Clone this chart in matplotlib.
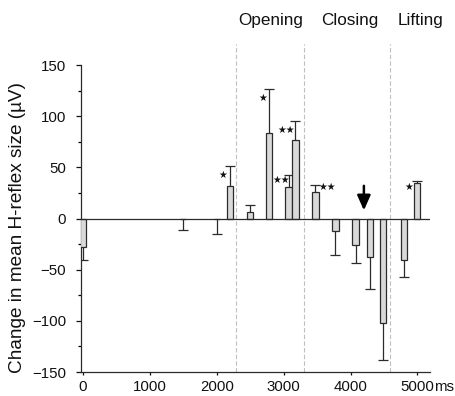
import numpy as np
import matplotlib
matplotlib.use("Agg")
import matplotlib.pyplot as plt

plt.rcParams['font.family'] = ['Liberation Sans', 'DejaVu Sans']

# bar positions (ms), mean change and end of the error bar (uV)
times = [0, 1500, 2000, 2200, 2500, 2780, 3075, 3175, 3475, 3775, 4075, 4290, 4490, 4795, 4990]
means = [-28, -0.5, -0.5, 32, 6, 84, 31, 77, 26, -12, -26, -38, -102, -41, 35]
err_ends = [-41, -11, -15, 51, 13.5, 127, 43, 95, 33, -36, -43, -69, -138, -57.5, 37]

# significance marks: (x, y, number of stars)
stars = [(2085, 43, 1), (2682, 118, 1), (2960, 38, 2), (3036, 87, 2),
         (3655, 31, 2), (4870, 31, 1)]

phase_bounds = [2290, 3300, 4590]
phase_names = ['Opening', 'Closing', 'Lifting']
phase_x = [2800, 3995, 5040]

arrow_x = 4200
arrow_from, arrow_to = 32, 8

edge = '#2b2b2b'
fig = plt.figure(figsize=(4.55, 3.96), dpi=100)
ax = fig.add_axes([0.177, 0.0606, 0.768, 0.775])

ax.bar(times, means, width=95, color='#d9d9d9', edgecolor=edge, linewidth=0.9, zorder=3)
ax.vlines(times, means, err_ends, color=edge, linewidth=0.9, zorder=2)
ax.plot(times, err_ends, ls='none', marker='_', ms=7, mew=0.9, color=edge, zorder=2)

ax.axhline(0, color=edge, linewidth=0.9, zorder=4)

for b in phase_bounds:
    ax.plot([b, b], [-150, 171], color='#c0c0c0', linewidth=0.8, ls=(0, (4, 2)),
            clip_on=False, zorder=1)
for name, x in zip(phase_names, phase_x):
    ax.text(x, 194, name, ha='center', va='center', fontsize=12.3, color='#111111')

for x, y, n in stars:
    ax.text(x, y, '\u2605' * n, ha='center', va='center', fontsize=7,
            family='DejaVu Sans', color='#111111')

ax.annotate('', xy=(arrow_x, arrow_to), xytext=(arrow_x, arrow_from),
            arrowprops=dict(arrowstyle='-|>,head_length=0.9,head_width=0.4',
                            color='black', lw=1.8, shrinkA=0, shrinkB=0))

ax.set_xlim(-36, 5188)
ax.set_ylim(-150, 150)
ax.set_yticks(np.arange(-150, 151, 50))
ax.set_yticks(np.arange(-150, 151, 25), minor=True)
ax.set_xticks(np.arange(0, 5001, 1000))
ax.tick_params(axis='both', labelsize=10.8, colors='#111111', width=0.9, length=3.5, pad=7)
ax.tick_params(axis='y', which='minor', length=2.5, width=0.9)
ax.tick_params(axis='x', length=2.5, pad=3.5)
for sp in ['top', 'right']:
    ax.spines[sp].set_visible(False)
for sp in ['left', 'bottom']:
    ax.spines[sp].set_color(edge)
    ax.spines[sp].set_linewidth(0.9)
ax.annotate('ms', xy=(5255, -150), xytext=(0, -6), textcoords='offset points',
            ha='left', va='top', fontsize=10.8, color='#111111', annotation_clip=False)
ax.set_ylabel('Change in mean H-reflex size (\u00b5V)', fontsize=13.7, color='#111111')
ax.yaxis.set_label_coords(-0.155, 0.47)

fig.savefig('out.png', dpi=100)
